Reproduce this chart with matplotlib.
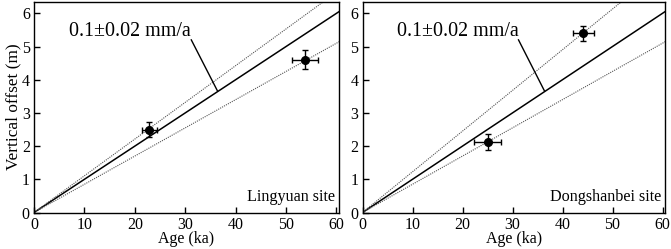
import numpy as np
import matplotlib
matplotlib.use('Agg')
import matplotlib.pyplot as plt

plt.rcParams['font.family'] = ['Liberation Serif', 'DejaVu Serif']

# Data
sites = ['Lingyuan site', 'Dongshanbei site']
ages = [[22.9, 53.8], [25.05, 44.1]]
age_err = [[1.4, 2.6], [2.7, 2.1]]
offsets = [[2.5, 4.6], [2.12, 5.4]]
offset_err = [[0.22, 0.29], [0.23, 0.23]]
rate_mid = [0.1, 0.1]
rate_hi = [0.1106, 0.1226]
rate_lo = [0.085, 0.085]
rate_label = '0.1±0.02 mm/a'
x_ticks = [0, 10, 20, 30, 40, 50, 60]
y_ticks = [0, 1, 2, 3, 4, 5, 6]

fig = plt.figure(figsize=(6.71, 2.49), dpi=100)
lefts = [34 / 671, 362.5 / 671]
widths = [305 / 671, 302.5 / 671]
b = (249 - 212.5) / 249
h = (212.5 - 1.7) / 249

xx = np.array([0, 61])
for i in range(2):
    ax = fig.add_axes([lefts[i], b, widths[i], h])
    ax.plot(xx, rate_mid[i] * xx, color='black', lw=1.1)
    ax.plot(xx, rate_hi[i] * xx, color='#555555', lw=0.8, ls=(0, (1, 1)))
    ax.plot(xx, rate_lo[i] * xx, color='#555555', lw=0.8, ls=(0, (1, 1)))
    ax.errorbar(ages[i], offsets[i], xerr=age_err[i], yerr=offset_err[i],
                fmt='o', color='black', ms=5.5, elinewidth=1, capsize=2, capthick=1)
    ax.set_xlim(0, 60.5)
    ax.set_ylim(0, 6.35)
    ax.set_xticks(x_ticks)
    ax.set_yticks(y_ticks)
    ax.tick_params(direction='in', length=4, width=1, labelsize=11.5)
    ax.tick_params(axis='x', pad=3)
    ax.tick_params(axis='y', pad=3)
    for s in ax.spines.values():
        s.set_linewidth(1)
    ax.text(19.0, 5.44, rate_label, fontsize=14.4, ha='center', va='center')
    ax.plot([31.2, 36.4], [5.2, 3.66], color='black', lw=1)
    ax.text(59.8, 0.22, sites[i], fontsize=11.6, ha='right', va='bottom')
    ax.set_xlabel('Age (ka)', fontsize=11.5, labelpad=-1)
    if i == 0:
        ax.set_ylabel('Vertical offset (m)', fontsize=12.4, labelpad=0)

fig.savefig('out.png', dpi=100)
